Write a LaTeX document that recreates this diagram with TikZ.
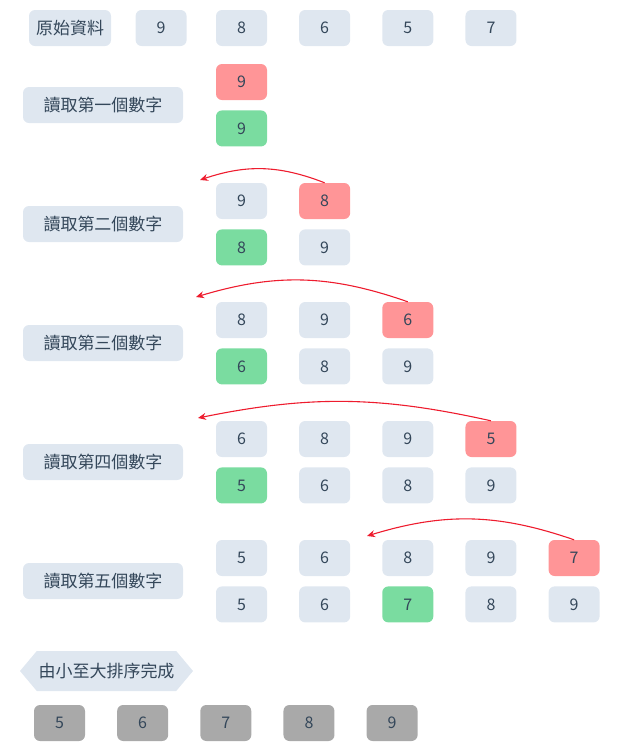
\documentclass[tikz,border=0pt]{standalone}
\usepackage{fontspec}
\setmainfont{Noto Sans CJK TC}
\usetikzlibrary{arrows.meta,positioning,shapes.symbols}

\definecolor{boxblue}{HTML}{DFE7F0}
\definecolor{boxred}{HTML}{FF9597}
\definecolor{boxgreen}{HTML}{7ADCA0}
\definecolor{boxgray}{HTML}{A9A9A9}
\definecolor{ink}{HTML}{34475A}
\definecolor{arrowred}{HTML}{EE1C2E}

\begin{document}
\begin{tikzpicture}[
  x=1pt, y=-1pt,
  every node/.style={text=ink, font=\fontsize{16}{18}\selectfont, rounded corners=6pt, inner sep=0pt},
  num/.style={fill=boxblue, minimum width=51pt, minimum height=36pt},
  hit/.style={num, fill=boxred},
  put/.style={num, fill=boxgreen},
  done/.style={num, fill=boxgray},
  stage/.style={fill=boxblue, minimum width=160pt, minimum height=36pt, font=\fontsize{17}{18}\selectfont},
  move/.style={draw=arrowred, line width=1.1pt, -{Stealth[length=8pt,width=7pt]}},
  node distance=10pt and 31.75pt
]
\useasboundingbox (0,0) rectangle (618,748);

% Source data
\node[stage, minimum width=82pt] (src) at (70,28) {原始資料};
\node[num] (o2) at (241.5,28) {8};
\node[num, left=29pt of o2] (o1) {9};
\node[num, right=of o2] (o3) {6};
\node[num, right=of o3] (o4) {5};
\node[num, right=of o4] (o5) {7};

% Step 1
\node[stage] (s1) at (103,105) {讀取第一個數字};
\node[hit] (a1) at (241.5,82) {9};
\node[put, below=of a1] (b1) {9};

% Step 2
\node[stage] (s2) at (103,224) {讀取第二個數字};
\node[num] (a21) at (241.5,201) {9};
\node[hit, right=of a21] (a22) {8};
\node[put, below=of a21] (b21) {8};
\node[num, right=of b21] (b22) {9};
\coordinate (t2) at (200,180);
\draw[move] (a22.north) to[bend right=20] (t2);

% Step 3
\node[stage] (s3) at (103,343) {讀取第三個數字};
\node[num] (a31) at (241.5,320) {8};
\node[num, right=of a31] (a32) {9};
\node[hit, right=of a32] (a33) {6};
\node[put, below=of a31] (b31) {6};
\node[num, right=of b31] (b32) {8};
\node[num, right=of b32] (b33) {9};
\coordinate (t3) at (196,297);
\draw[move] (a33.north) to[bend right=18] (t3);

% Step 4
\node[stage] (s4) at (103,462) {讀取第四個數字};
\node[num] (a41) at (241.5,439) {6};
\node[num, right=of a41] (a42) {8};
\node[num, right=of a42] (a43) {9};
\node[hit, right=of a43] (a44) {5};
\node[put, below=of a41] (b41) {5};
\node[num, right=of b41] (b42) {6};
\node[num, right=of b42] (b43) {8};
\node[num, right=of b43] (b44) {9};
\coordinate (t4) at (198,418);
\draw[move] (a44.north) to[bend right=12] (t4);

% Step 5
\node[stage] (s5) at (103,581) {讀取第五個數字};
\node[num] (a51) at (241.5,558) {5};
\node[num, right=of a51] (a52) {6};
\node[num, right=of a52] (a53) {8};
\node[num, right=of a53] (a54) {9};
\node[hit, right=of a54] (a55) {7};
\node[num, below=of a51] (b51) {5};
\node[num, right=of b51] (b52) {6};
\node[put, right=of b52] (b53) {7};
\node[num, right=of b53] (b54) {8};
\node[num, right=of b54] (b55) {9};
\coordinate (t5) at (367,536);
\draw[move] (a55.north) to[bend right=18] (t5);

% Result
\node[fill=boxblue, sharp corners, shape=signal, signal to=west and east, signal pointer angle=100,
      minimum width=173pt, minimum height=40pt, font=\fontsize{17}{18}\selectfont] (res) at (106.5,671) {由小至大排序完成};
\node[done] (d1) at (59.5,723) {5};
\node[done, right=of d1] (d2) {6};
\node[done, right=of d2] (d3) {7};
\node[done, right=of d3] (d4) {8};
\node[done, right=of d4] (d5) {9};

\end{tikzpicture}
\end{document}
